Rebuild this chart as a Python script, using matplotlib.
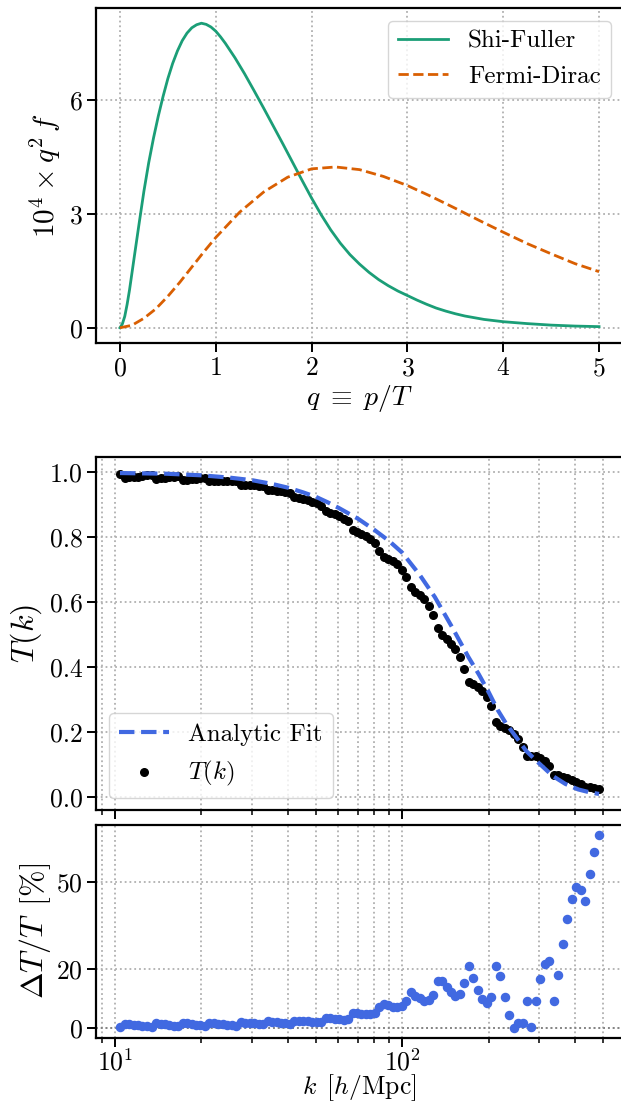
import matplotlib
matplotlib.use("Agg")
import matplotlib.pyplot as plt

# ---------------- data ----------------
q_sf = [0, 0.025, 0.05, 0.075, 0.1, 0.15, 0.2, 0.25, 0.3, 0.35, 0.4, 0.45, 0.5, 0.55,
        0.6, 0.65, 0.7, 0.75, 0.8, 0.85, 0.9, 0.95, 1.0, 1.05, 1.1, 1.2, 1.3, 1.4, 1.5,
        1.6, 1.7, 1.8, 1.9, 2.0, 2.1, 2.2, 2.3, 2.4, 2.5, 2.6, 2.7, 2.8, 2.9, 3.0, 3.1,
        3.2, 3.3, 3.4, 3.5, 3.6, 3.8, 4.0, 4.25, 4.5, 4.75, 5.0]
shi_fuller = [0, 0.10, 0.30, 0.62, 1.0, 1.88, 2.75, 3.6, 4.35, 5.0, 5.58, 6.1, 6.57, 6.97,
              7.3, 7.57, 7.77, 7.91, 7.99, 8.03, 8.0, 7.93, 7.82, 7.67, 7.5, 7.12, 6.7,
              6.25, 5.79, 5.32, 4.85, 4.37, 3.89, 3.42, 2.98, 2.58, 2.23, 1.93, 1.68,
              1.46, 1.27, 1.11, 0.97, 0.85, 0.73, 0.62, 0.52, 0.44, 0.37, 0.31, 0.22,
              0.16, 0.11, 0.07, 0.045, 0.03]

q_fd = [0, 0.125, 0.25, 0.375, 0.5, 0.625, 0.75, 0.875, 1.0, 1.25, 1.5, 1.75, 2.0, 2.25,
        2.5, 2.75, 3.0, 3.25, 3.5, 3.75, 4.0, 4.25, 4.5, 4.75, 5.0]
fermi_dirac = [0, 0.065, 0.25, 0.5, 0.83, 1.2, 1.6, 2.0, 2.38, 3.05, 3.58, 3.97, 4.19,
               4.24, 4.17, 3.99, 3.75, 3.46, 3.15, 2.83, 2.52, 2.22, 1.95, 1.69, 1.48]

k_vals = [10.4, 10.8, 11.2, 11.6, 12.0, 12.4, 12.9, 13.4, 13.9, 14.4,
          14.9, 15.4, 16.0, 16.6, 17.2, 17.8, 18.5, 19.1, 19.8, 20.6,
          21.3, 22.1, 22.9, 23.7, 24.6, 25.5, 26.4, 27.4, 28.4, 29.4,
          30.5, 31.6, 32.8, 34.0, 35.2, 36.5, 37.8, 39.2, 40.6, 42.1,
          43.7, 45.3, 46.9, 48.6, 50.4, 52.2, 54.2, 56.1, 58.2, 60.3,
          62.5, 64.8, 67.2, 69.6, 72.1, 74.8, 77.5, 80.3, 83.3, 86.3,
          89.5, 92.7, 96.1, 99.7, 103.3, 107.1, 111.0, 115.0, 119.2, 123.6,
          128.1, 132.8, 137.6, 142.7, 147.9, 153.3, 158.9, 164.7, 170.7, 176.9,
          183.4, 190.1, 197.0, 204.2, 211.7, 219.4, 227.4, 235.8, 244.4, 253.3,
          262.5, 272.1, 282.1, 292.4, 303.0, 314.1, 325.6, 337.5, 349.8, 362.6,
          375.8, 389.5, 403.8, 418.5, 433.8, 449.6, 466.0, 483.1]

T_data = [.994, .983, .984, .986, .986, .988, .990, .992, .980, .982,
          .983, .985, .986, .988, .977, .977, .979, .980, .981, .982,
          .971, .971, .972, .972, .973, .973, .974, .960, .961, .960,
          .960, .958, .957, .945, .945, .942, .941, .940, .937, .923,
          .920, .916, .913, .909, .905, .897, .879, .875, .870, .864,
          .857, .848, .823, .816, .810, .802, .794, .781, .757, .739,
          .733, .727, .716, .700, .677, .645, .632, .621, .608, .589,
          .561, .519, .499, .486, .471, .454, .430, .394, .353, .347,
          .339, .327, .308, .279, .231, .218, .211, .205, .195, .179,
          .154, .127, .126, .125, .120, .111, .096, .068, .066, .060,
          .057, .053, .047, .040, .031, .029, .026, .024]

resid = [0.3, 1.4, 1.3, 1.1, 1.0, 0.8, 0.6, 0.4, 1.5, 1.3,
         1.2, 1.0, 0.8, 0.6, 1.6, 1.5, 1.3, 1.1, 0.9, 0.7,
         1.8, 1.6, 1.4, 1.3, 1.1, 0.9, 0.7, 2.0, 1.8, 1.7,
         1.5, 1.4, 1.2, 2.2, 2.0, 1.9, 1.7, 1.5, 1.4, 2.5,
         2.4, 2.3, 2.2, 2.1, 2.0, 2.1, 3.5, 3.2, 3.0, 2.9,
         2.8, 3.1, 5.2, 5.1, 4.9, 4.7, 4.7, 5.1, 7.2, 8.2,
         7.8, 7.0, 7.0, 7.6, 9.2, 12.2, 11.0, 10.1, 9.3, 9.5,
         11.2, 16.1, 16.1, 14.1, 12.4, 11.0, 11.6, 15.4, 21.3, 17.1,
         13.1, 9.9, 8.5, 10.4, 21.3, 17.6, 10.4, 4.5, 0.0, 1.8,
         1.8, 9.1, 0.4, 9.3, 16.6, 21.7, 22.7, 9.1, 18.2, 28.7,
         37.4, 44.1, 48.3, 47.3, 43.5, 52.6, 60.2, 66.1]

k_fit = [10.4, 15, 20, 25, 30, 35, 40, 45, 50, 55, 60, 70, 80, 90, 100, 115, 130, 150,
         170, 185, 200, 215, 230, 250, 270, 300, 335, 370, 410, 450, 485]
T_fit = [0.997, 0.995, 0.990, 0.983, 0.975, 0.964, 0.952, 0.938, 0.924, 0.907, 0.890,
         0.857, 0.822, 0.788, 0.752, 0.684, 0.615, 0.519, 0.431, 0.377, 0.323, 0.268,
         0.226, 0.183, 0.142, 0.103, 0.064, 0.040, 0.023, 0.014, 0.009]

top_yticks = [0, 3, 6]
top_xticks = [0, 1, 2, 3, 4, 5]
mid_yticks = [0.0, 0.2, 0.4, 0.6, 0.8, 1.0]
bot_yticks = [0, 20, 50]

# ---------------- style ----------------
plt.rcParams.update({
    "font.family": "serif",
    "font.serif": ["cmr10"],
    "mathtext.fontset": "cm",
    "axes.formatter.use_mathtext": True,
    "axes.unicode_minus": False,
    "font.size": 18,
    "axes.linewidth": 1.6,
    "xtick.direction": "out",
    "ytick.direction": "out",
    "xtick.major.size": 6.2,
    "ytick.major.size": 6.2,
    "xtick.major.width": 1.4,
    "ytick.major.width": 1.4,
    "xtick.minor.size": 3.6,
    "ytick.minor.size": 3.6,
    "xtick.minor.width": 1.1,
    "ytick.minor.width": 1.1,
    "xtick.labelsize": 18.5,
    "ytick.labelsize": 18.5,
    "legend.fontsize": 18,
})

W, H = 621, 1104
fig = plt.figure(figsize=(W / 100, H / 100), dpi=100)
L = 96 / W
AW = 527 / W
ax1 = fig.add_axes([L, 1 - 343 / H, AW, 335 / H])
ax2 = fig.add_axes([L, 1 - 810 / H, AW, 353 / H])
ax3 = fig.add_axes([L, 1 - 1037.5 / H, AW, 212.5 / H], sharex=ax2)

grid_kw = dict(ls=":", color="#b0b0b0", lw=1.3)

# ---- top panel ----
ax1.plot(q_sf, shi_fuller, color="#1b9e77", lw=2.0, label="Shi-Fuller")
ax1.plot(q_fd, fermi_dirac, color="#d95f02", lw=2.0, ls="--", label="Fermi-Dirac")
ax1.set_xticks(top_xticks)
ax1.set_yticks(top_yticks)
ax1.set_axisbelow(True)
ax1.grid(True, which="major", **grid_kw)
ax1.set_xlabel(r"$q \;\equiv\; p/T$", fontsize=20, labelpad=2)
ax1.set_ylabel(r"$10^4 \times q^2\, f$", fontsize=21)
ax1.legend(loc="upper right")

# ---- middle panel ----
ax2.plot(k_fit, T_fit, color="royalblue", lw=3.0, ls="--", label="Analytic Fit", zorder=4)
ax2.scatter(k_vals, T_data, s=30, color="black", label=r"$T(k)$", zorder=3)
ax2.set_xscale("log")
ax2.set_yticks(mid_yticks)
ax2.set_yticklabels([f"{v:.1f}" for v in mid_yticks])
ax2.set_axisbelow(True)
ax2.grid(True, which="major", **grid_kw)
ax2.grid(True, which="minor", axis="x", **grid_kw)
ax2.tick_params(labelbottom=False)
ax2.set_ylabel(r"$T(k)$", fontsize=23)
ax2.legend(loc="lower left")

# ---- bottom panel ----
ax3.axhline(0, color="grey", ls=":", lw=1.3, zorder=1)
ax3.scatter(k_vals, resid, s=34, color="royalblue", zorder=3)
ax3.set_yticks(bot_yticks)
ax3.set_axisbelow(True)
ax3.grid(True, which="major", **grid_kw)
ax3.grid(True, which="minor", axis="x", **grid_kw)
ax3.tick_params(axis="x", which="major", pad=2)
ax3.set_xlabel(r"$k\ \,[h/\mathrm{Mpc}]$", fontsize=18.5)
ax3.xaxis.set_label_coords(0.5, -0.165)
ax3.set_ylabel(r"$\Delta T/T\ \,[\%]$", fontsize=23, labelpad=2)

fig.savefig("out.png", dpi=100)
